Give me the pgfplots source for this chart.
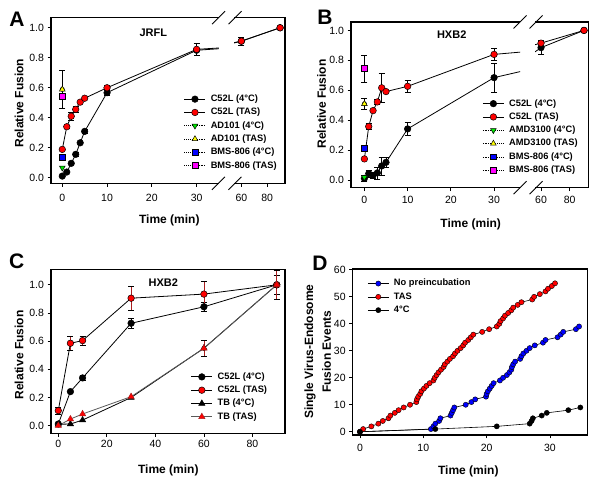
\documentclass[border=0pt]{standalone}
\usepackage{fontspec}
\setmainfont{Liberation Sans}
\usepackage{pgfplots}
\pgfplotsset{compat=1.18}

\definecolor{mred}{RGB}{255,0,0}
\definecolor{mblue}{RGB}{0,0,255}
\definecolor{mgreen}{RGB}{0,230,0}
\definecolor{myellow}{RGB}{255,255,0}
\definecolor{mmag}{RGB}{255,0,255}
\definecolor{ebred}{RGB}{170,30,30}

\newcommand\tickfont{\fontsize{10.5}{12}\selectfont}
\newcommand\labfont{\fontsize{12}{14}\selectfont\bfseries}
\newcommand\legfont{\fontsize{9.3}{10}\selectfont\bfseries}

\pgfplotsset{
  panel/.style={
    scale only axis, clip=true,
    axis line style={draw=none},
    tick align=outside, tick pos=left,
    major tick length=3.5pt,
    every tick/.style={black, line width=0.7pt},
    ticklabel style={font=\tickfont},
    legend cell align=left,
    legend image code/.code={\draw[mark repeat=2,mark phase=2] plot coordinates {(0pt,0pt)(10.5pt,0pt)(21pt,0pt)};},
    legend style={draw=none, fill=none, inner sep=0pt, outer sep=0pt, anchor=north west,
      font=\legfont, row sep=4.1pt,
      nodes={inner sep=0.4pt, text height=6.6pt, text depth=1.8pt},
      /tikz/every odd column/.append style={column sep=4.5pt}},
    every axis plot/.append style={line width=0.8pt},
    error bars/error bar style={line width=0.6pt, draw=black},
    error bars/error mark options={rotate=90, mark size=3pt, line width=0.6pt},
  },
  blk/.style={black, mark=*, mark size=3.3pt, mark options={fill=black, draw=black, line width=0.5pt}},
  rdc/.style={black, mark=*, mark size=3.3pt, mark options={fill=mred, draw=black, line width=0.5pt}},
  dotpt/.style={black, densely dotted, line width=0.6pt, mark size=3.3pt},
  ebonly/.style={forget plot, only marks, mark=none, error bars/.cd, y dir=both, y explicit},
}

\begin{document}
\begin{tikzpicture}[x=1pt, y=1pt]
\useasboundingbox (0,0) rectangle (600,490);

%%%%%%%%%%%%%%%% Panel A
\begin{axis}[panel, at={(51pt,306.7pt)}, anchor=south west, width=168pt, height=165.6pt,
  xmin=-2.52, xmax=35, ymin=-0.037, ymax=1.067,
  xtick={0,10,20,30}, xticklabels={0,10,20,30},
  xticklabel style={yshift=-4pt},
  ytick={0,0.2,0.4,0.6,0.8,1}, yticklabels={0.0,0.2,0.4,0.6,0.8,1.0},
  legend style={at={(0.792,0.536)}}]
\addplot[ebonly] coordinates {(3,0.156) +- (0,0.015) (5,0.309) +- (0,0.012) (10,0.567) +- (0,0.02)};
\addplot[blk] coordinates {(0,0.011)(1,0.038)(2,0.096)(3,0.156)(4,0.233)(5,0.309)(10,0.567)(30,0.85)(60,0.91)(90,1.0)};
\addlegendentry{C52L (4°C)}
\addplot[ebonly] coordinates {(1,0.34) +- (0,0.012) (2,0.41) +- (0,0.025) (3,0.456) +- (0,0.02) (10,0.6) +- (0,0.018) (30,0.856) +- (0,0.042)};
\addplot[rdc] coordinates {(0,0.189)(1,0.34)(2,0.41)(3,0.456)(4,0.504)(5,0.53)(10,0.6)(30,0.856)(60,0.911)(90,1.0)};
\addlegendentry{C52L (TAS)}
\addplot[ebonly] coordinates {(0,0.589) +- (0,0.128)};
\addplot[dotpt, mark=triangle*, mark options={solid, rotate=180, fill=mgreen, draw=black, line width=0.5pt}] coordinates {(0,0.067)};
\addlegendentry{AD101 (4°C)}
\addplot[dotpt, mark=triangle*, mark options={solid, fill=myellow, draw=black, line width=0.5pt}] coordinates {(0,0.589)};
\addlegendentry{AD101 (TAS)}
\addplot[dotpt, mark=square*, mark size=2.9pt, mark options={solid, fill=mblue, draw=black, line width=0.5pt}] coordinates {(0,0.138)};
\addlegendentry{BMS-806 (4°C)}
\addplot[dotpt, mark=square*, mark size=2.9pt, mark options={solid, fill=mmag, draw=black, line width=0.5pt}] coordinates {(0,0.544)};
\addlegendentry{BMS-806 (TAS)}
\end{axis}

\begin{axis}[panel, at={(234pt,306.7pt)}, anchor=south west, width=51pt, height=165.6pt,
  xmin=54.3, xmax=93.8, ymin=-0.037, ymax=1.067,
  xtick={60,80}, xticklabels={60,80}, ytick=\empty,
  xticklabel style={yshift=-4pt}]
\addplot[blk] coordinates {(10,0.567)(30,0.85)(60,0.91)(90,1.0)};
\addplot[ebonly] coordinates {(60,0.911) +- (0,0.028)};
\addplot[rdc] coordinates {(10,0.6)(30,0.856)(60,0.911)(90,1.0)};
\end{axis}

\draw[line width=1.5pt] (219,472.3)--(51,472.3)--(51,306.7)--(219,306.7);
\draw[line width=1.5pt] (234,472.3)--(285,472.3)--(285,306.7)--(234,306.7);
\foreach \cx in {218.5,235} {
  \draw[line width=0.8pt] (\cx-6.5,472.3-6.5)--(\cx+6.5,472.3+6.5);
  \draw[line width=0.8pt] (\cx-6.5,306.7-6.5)--(\cx+6.5,306.7+6.5);
}
\node[font=\fontsize{21}{21}\selectfont\bfseries] at (17,470.8) {A};
\node[font=\fontsize{11}{12}\selectfont\bfseries] at (153.3,457.3) {JRFL};
\node[font=\labfont, rotate=90] at (19,386.7) {Relative Fusion};
\node[font=\labfont] at (169.3,269.3) {Time (min)};

%%%%%%%%%%%%%%%% Panel B
\begin{axis}[panel, at={(351pt,302.3pt)}, anchor=south west, width=169pt, height=165.7pt,
  xmin=-3.1, xmax=36, ymin=-0.049, ymax=1.056,
  xtick={0,10,20,30}, xticklabels={0,10,20,30},
  xticklabel style={yshift=-1.5pt},
  ytick={0,0.2,0.4,0.6,0.8,1}, yticklabels={0.0,0.2,0.4,0.6,0.8,1.0},
  legend style={at={(0.778,0.535)}}]
\addplot[ebonly] coordinates {(0,0.013) +- (0,0.02) (1,0.045) +- (0,0.025) (2,0.033) +- (0,0.02) (3,0.05) +- (0,0.04) (4,0.096) +- (0,0.06) (5,0.12) +- (0,0.035) (10,0.343) +- (0,0.045) (30,0.685) +- (0,0.097)};
\addplot[blk] coordinates {(0,0.013)(1,0.045)(2,0.033)(3,0.05)(4,0.096)(5,0.12)(10,0.343)(30,0.685)(60,0.885)(90,1.0)};
\addlegendentry{C52L (4°C)}
\addplot[ebonly] coordinates {(1,0.359) +- (0,0.02) (3,0.523) +- (0,0.015) (4,0.617) +- (0,0.095) (10,0.627) +- (0,0.04) (30,0.84) +- (0,0.04)};
\addplot[rdc] coordinates {(0,0.143)(1,0.359)(2,0.465)(3,0.523)(4,0.617)(5,0.592)(10,0.627)(30,0.84)(60,0.915)(90,1.0)};
\addlegendentry{C52L (TAS)}
\addplot[ebonly] coordinates {(0,0.51) +- (0,0.035) (0,0.746) +- (0,0.09)};
\addplot[dotpt, mark=triangle*, mark options={solid, rotate=180, fill=mgreen, draw=black, line width=0.5pt}] coordinates {(0,0.02)};
\addlegendentry{AMD3100 (4°C)}
\addplot[dotpt, mark=triangle*, mark options={solid, fill=myellow, draw=black, line width=0.5pt}] coordinates {(0,0.51)};
\addlegendentry{AMD3100 (TAS)}
\addplot[dotpt, mark=square*, mark size=2.9pt, mark options={solid, fill=mblue, draw=black, line width=0.5pt}] coordinates {(0,0.214)};
\addlegendentry{BMS-806 (4°C)}
\addplot[dotpt, mark=square*, mark size=2.9pt, mark options={solid, fill=mmag, draw=black, line width=0.5pt}] coordinates {(0,0.746)};
\addlegendentry{BMS-806 (TAS)}
\end{axis}

\begin{axis}[panel, at={(535pt,302.3pt)}, anchor=south west, width=53.3pt, height=165.7pt,
  xmin=55.8, xmax=93, ymin=-0.049, ymax=1.056,
  xtick={60,80}, xticklabels={60,80}, ytick=\empty,
  xticklabel style={yshift=-1.5pt}]
\addplot[ebonly] coordinates {(60,0.885) +- (0,0.045)};
\addplot[blk] coordinates {(10,0.343)(30,0.685)(60,0.885)(90,1.0)};
\addplot[ebonly] coordinates {(60,0.915) +- (0,0.02)};
\addplot[rdc] coordinates {(10,0.627)(30,0.84)(60,0.915)(90,1.0)};
\end{axis}

\draw[line width=1.5pt] (520,468)--(351,468)--(351,302.3)--(520,302.3);
\draw[line width=1.5pt] (535,468)--(588.3,468)--(588.3,302.3)--(535,302.3);
\foreach \cx in {520,536} {
  \draw[line width=0.8pt] (\cx-6.5,468-6.5)--(\cx+6.5,468+6.5);
  \draw[line width=0.8pt] (\cx-6.5,302.3-6.5)--(\cx+6.5,302.3+6.5);
}
\node[font=\fontsize{21}{21}\selectfont\bfseries] at (325,472.5) {B};
\node[font=\fontsize{11}{12}\selectfont\bfseries] at (451.7,455.3) {HXB2};
\node[font=\labfont, rotate=90] at (321.7,386) {Relative Fusion};
\node[font=\labfont] at (470.7,266) {Time (min)};

%%%%%%%%%%%%%%%% Panel C
\begin{axis}[panel, at={(51pt,56.7pt)}, anchor=south west, width=234pt, height=164pt,
  xmin=-3, xmax=93.4, ymin=-0.054, ymax=1.11,
  xtick={0,20,40,60,80}, xticklabels={0,20,40,60,80},
  ytick={0,0.2,0.4,0.6,0.8,1}, yticklabels={0.0,0.2,0.4,0.6,0.8,1.0},
  legend style={at={(0.598,0.372)}}]
\addplot[ebonly] coordinates {(10,0.339) +- (0,0.02) (30,0.727) +- (0,0.035) (60,0.844) +- (0,0.032) (90,1.0) +- (0,0.07)};
\addplot[blk] coordinates {(0,0.012)(5,0.242)(10,0.339)(30,0.727)(60,0.844)(90,1.0)};
\addlegendentry{C52L (4°C)}
\addplot[ebonly, error bar style={draw=ebred}] coordinates {(0,0.107) +- (0,0.024) (5,0.585) +- (0,0.052) (10,0.604) +- (0,0.03) (30,0.905) +- (0,0.086) (60,0.934) +- (0,0.09) (90,1.0) +- (0,0.1)};
\addplot[rdc] coordinates {(0,0.107)(5,0.585)(10,0.604)(30,0.905)(60,0.934)(90,1.0)};
\addlegendentry{C52L (TAS)}
\addplot[black, mark=triangle*, mark size=3.6pt, mark options={fill=black, draw=black, line width=0.5pt}] coordinates {(0,0.01)(5,0.012)(10,0.04)(30,0.2)(60,0.55)(90,1.0)};
\addlegendentry{TB (4°C)}
\addplot[ebonly, error bar style={draw=ebred}] coordinates {(60,0.549) +- (0,0.055)};
\addplot[gray!70!black, mark=triangle*, mark size=3.6pt, mark options={fill=mred, draw=ebred, line width=0.5pt}] coordinates {(0,0.0)(5,0.047)(10,0.083)(30,0.206)(60,0.549)(90,1.0)};
\addlegendentry{TB (TAS)}
\end{axis}
\draw[line width=1.5pt] (51,56.7) rectangle (285,220.7);
\node[font=\fontsize{21}{21}\selectfont\bfseries] at (16.7,228.3) {C};
\node[font=\fontsize{11}{12}\selectfont\bfseries] at (163.3,207.3) {HXB2};
\node[font=\labfont, rotate=90] at (19,135) {Relative Fusion};
\node[font=\labfont] at (168.3,20) {Time (min)};

%%%%%%%%%%%%%%%% Panel D
\begin{axis}[panel, at={(352.7pt,55pt)}, anchor=south west, width=234.6pt, height=166pt,
  xmin=-1.15, xmax=35.9, ymin=-1.2, ymax=60.3,
  xtick={0,10,20,30}, xticklabels={0,10,20,30},
  xticklabel style={yshift=-2.5pt},
  ytick={0,10,20,30,40,50,60}, yticklabels={0,10,20,30,40,50,60},
  legend style={at={(0.063,0.94)}},
  every axis plot/.append style={line width=0.6pt}]
\addplot[black, mark=*, mark size=2.6pt, mark options={fill=mblue, draw=black, line width=0.4pt}] coordinates {
(0,0)(11.2,1)(11.6,2)(11.9,3)(12.5,4)(12.7,5)(14.3,6)(14.5,7)(14.7,8)(14.9,9)
(16.7,10)(17.6,11)(18.2,12)(19.9,13)(20.0,14)(20.2,15)(20.5,16)(20.8,17)(21.1,18)(22.1,19)
(22.6,20)(23.2,21)(23.6,22)(23.9,23)(24.0,24)(24.2,25)(24.5,26)(25.3,27)(25.5,28)(25.8,29)
(26.3,30)(26.8,31)(27.6,32)(28.9,33)(29.3,34)(31.2,35)(31.7,36)(32.1,37)(34.1,38)(34.6,39)};
\addlegendentry{No preincubation}
\addplot[black, mark=*, mark size=2.6pt, mark options={fill=mred, draw=black, line width=0.4pt}] coordinates {
(0,0)(0.5,1)(1.8,2)(2.9,3)(3.6,4)(4.5,5)(4.8,6)(5.5,7)(6.1,8)(6.9,9)
(7.9,10)(8.9,11)(9.0,12)(9.2,13)(9.5,14)(9.7,15)(10.1,16)(10.5,17)(11.0,18)(11.6,19)
(11.8,20)(12.1,21)(12.4,22)(12.8,23)(13.2,24)(13.4,25)(13.8,26)(14.2,27)(14.7,28)(15.0,29)
(15.4,30)(15.9,31)(16.3,32)(16.6,33)(17.1,34)(17.5,35)(17.9,36)(19.3,37)(20.4,38)(21.6,39)
(22.0,40)(22.2,41)(22.6,42)(22.9,43)(23.4,44)(23.9,45)(24.2,46)(24.9,47)(25.5,48)(27.2,49)
(27.5,50)(28.4,51)(29.3,52)(29.7,53)(30.3,54)(30.8,55)};
\addlegendentry{TAS}
\addplot[black, mark=*, mark size=2.6pt, mark options={fill=black, draw=black, line width=0.4pt}] coordinates {
(0,0)(11.9,1)(21.6,2)(26.8,3)(27.1,4)(27.3,5)(28.7,6)(29.5,7)(32.9,8)(34.8,9)};
\addlegendentry{4°C}
\end{axis}
\draw[line width=1.5pt] (352.7,55) rectangle (587.3,221);
\node[font=\fontsize{21}{21}\selectfont\bfseries] at (320,226.7) {D};
\node[font=\labfont, rotate=90] at (310,138.3) {Single Virus-Endosome};
\node[font=\labfont, rotate=90] at (326.7,138.3) {Fusion Events};
\node[font=\labfont] at (468.3,18.3) {Time (min)};
\end{tikzpicture}
\end{document}
